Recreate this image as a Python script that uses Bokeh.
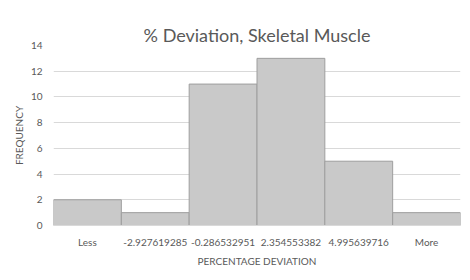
from bokeh.plotting import figure
from bokeh.models import Range1d, FactorRange, ColumnDataSource, Title
from bokeh.embed import file_html
from bokeh.resources import INLINE

bins = ["Less", "-2.927619285", "-0.286532951", "2.354553382", "4.995639716", "More"]
frequency = [2, 1, 11, 13, 5, 1]
y_ticks = [0, 2, 4, 6, 8, 10, 12, 14]
title_text = "% Deviation, Skeletal Muscle"

TEXT = "#595959"
FONT = "Lato"

src = ColumnDataSource(dict(bins=bins, frequency=frequency))

p = figure(width=470, height=280, x_range=FactorRange(*bins, range_padding=0),
           y_range=Range1d(0, 14), output_backend="svg", toolbar_location=None,
           min_border_left=53, min_border_right=10, min_border_top=45, min_border_bottom=55)
p.outline_line_color = None
p.background_fill_color = "white"
p.title.text = ""

p.vbar(x="bins", top="frequency", width=1.0, source=src,
       fill_color="#c9c9c9", line_color="#9e9e9e", line_width=1)

# chart title, then an invisible spacer between it and the frame
p.add_layout(Title(text=title_text, align="center", vertical_align="bottom", standoff=0,
                   text_font=FONT, text_font_style="normal", text_font_size="18px",
                   text_color=TEXT), "above")
p.add_layout(Title(text="\u200b", text_font_size="2px", text_alpha=0, standoff=14), "above")

for ax in (p.xaxis, p.yaxis):
    ax.major_tick_out = 0
    ax.major_tick_in = 0
    ax.minor_tick_out = 0
    ax.minor_tick_in = 0
    ax.major_tick_line_color = None
    ax.minor_tick_line_color = None
    ax.major_label_text_font = FONT
    ax.major_label_text_font_size = "10px"
    ax.major_label_text_color = TEXT
    ax.axis_label_text_font = FONT
    ax.axis_label_text_font_size = "10px"
    ax.axis_label_text_font_style = "normal"
    ax.axis_label_text_color = TEXT

p.yaxis.ticker = y_ticks
p.yaxis.axis_line_color = None
p.yaxis.major_label_standoff = 11
p.yaxis.axis_label = "FREQUENCY"
p.yaxis.axis_label_standoff = 3

p.xaxis.axis_line_color = "#d9d9d9"
p.xaxis.major_label_standoff = 10
p.xaxis.axis_label = "PERCENTAGE DEVIATION"
p.xaxis.axis_label_standoff = 4

p.xgrid.grid_line_color = None
p.ygrid.grid_line_color = "#d9d9d9"
p.ygrid.grid_line_width = 1

open("out.html", "w").write(file_html(p, INLINE))
